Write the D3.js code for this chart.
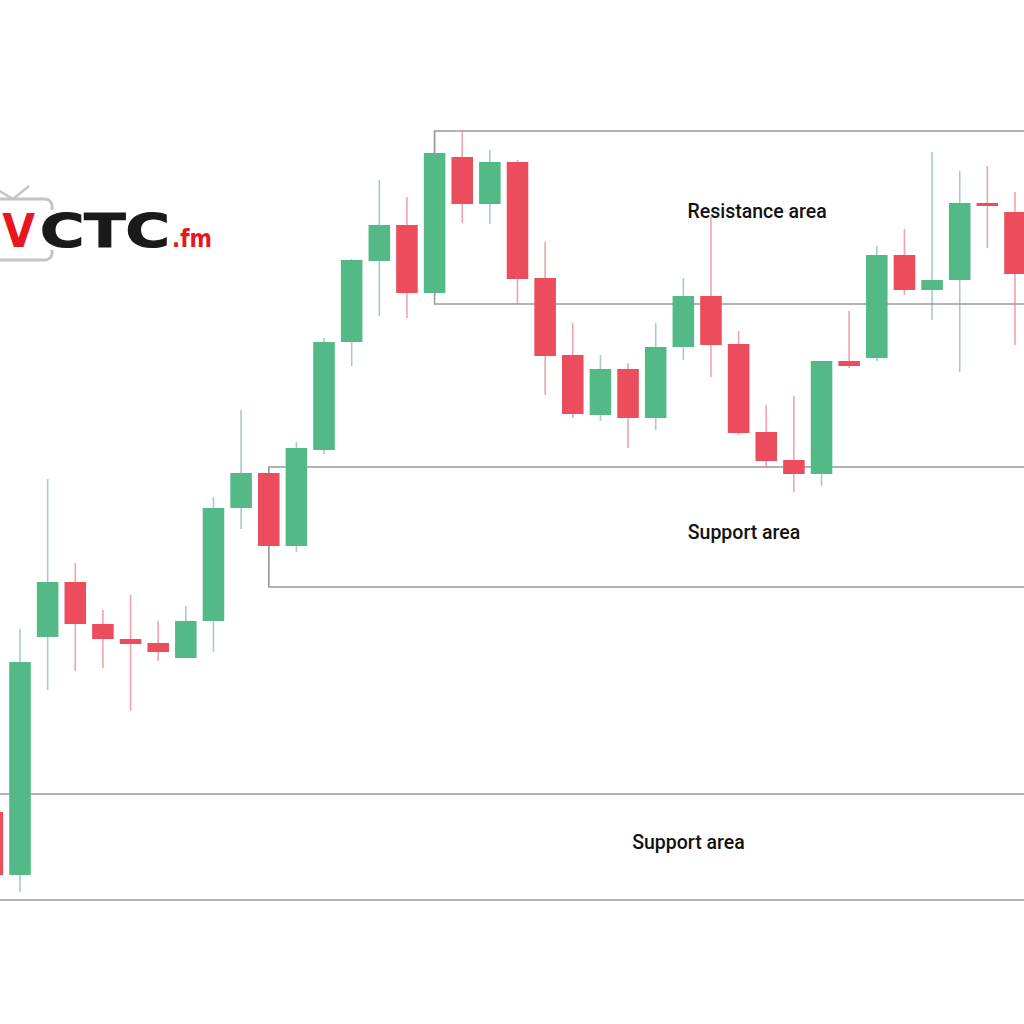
<!DOCTYPE html>
<html>
<head>
<meta charset="utf-8">
<script src="https://cdn.jsdelivr.net/npm/d3@7"></script>
<style>
html,body{margin:0;padding:0;background:#fff;}
svg{display:block;}
</style>
</head>
<body>
<svg id="chart" width="1024" height="1024"></svg>
<script>
// ---- data ----
const candleIndex = d3.range(0, 38);
const open  = [18.8,12.5,36.3,41.8,37.6,36.1,35.7,34.2,37.9,49.2,52.7,45.4,55.0,65.8,73.9,77.5,70.7,84.3,79.6,83.8,72.2,64.5,58.5,63.1,58.2,65.3,70.4,65.6,56.8,54.0,52.6,63.9,64.2,74.5,71.0,72.0,79.7,78.8];
const high  = [20.0,37.1,52.1,43.7,39.0,40.5,37.9,39.4,50.3,59.0,53.3,55.8,66.2,74.1,82.0,80.3,86.9,87.0,85.0,84.0,75.8,67.7,64.5,63.7,67.7,72.2,78.3,66.9,59.5,60.4,63.9,68.9,75.4,77.1,84.8,82.9,83.4,80.8];
const low   = [12.0,10.8,31.0,32.9,33.2,28.9,33.9,34.2,34.8,47.1,41.3,44.8,54.6,63.4,68.4,68.2,70.4,77.7,77.6,69.6,60.5,58.2,57.9,55.2,57.0,64.0,62.3,56.5,53.2,50.8,51.4,63.2,63.9,70.5,68.0,62.8,75.2,65.5];
const close = [12.5,33.8,41.8,37.6,36.1,35.6,34.8,37.9,49.2,52.7,45.4,55.2,65.8,74.0,77.5,70.7,84.7,79.6,83.8,72.1,64.4,58.6,63.1,58.2,65.3,70.4,65.5,56.7,53.9,52.6,63.9,63.4,74.5,71.0,72.0,79.7,79.4,72.6];

// zones: start index, top price, bottom price
const zoneNames  = ["Resistance area", "Support area", "Support area"];
const zoneStart  = [16, 10, -3];
const zoneTop    = [86.9, 53.3, 20.6];
const zoneBottom = [69.6, 41.3, 10.0];
// label anchor (index, price)
const labelIdx   = [25.15, 25.16, 23.15];
const labelPrice = [78.2, 46.1, 15.1];

// ---- layout ----
const W = 1024, H = 1024;
const svg = d3.select("#chart");
svg.append("rect").attr("width", W).attr("height", H).attr("fill", "#fff");

const x = d3.scaleLinear().domain([1, 37]).range([20, 1015]);
const y = d3.scaleLinear().domain([0, 100]).range([1000, 0]);
const step = x(1) - x(0);
const bodyW = step * 0.78;

const GREEN = "#53b987", RED = "#eb4d5c";
const GREEN_WICK = "#a9c9cb", RED_WICK = "#f0a3ad";
const LINE = "#9b9b9e";

const candles = candleIndex.map(i => ({i, o: open[i], h: high[i], l: low[i], c: close[i]}));

// zones
const zones = zoneNames.map((n, k) => ({n, s: zoneStart[k], t: zoneTop[k], b: zoneBottom[k], li: labelIdx[k], lp: labelPrice[k]}));

// wicks
svg.append("g").selectAll("line").data(candles).join("line")
  .attr("x1", d => x(d.i)).attr("x2", d => x(d.i))
  .attr("y1", d => y(d.h)).attr("y2", d => y(d.l))
  .attr("stroke", d => d.c >= d.o ? GREEN_WICK : RED_WICK)
  .attr("stroke-width", 1.6);

// zone outlines
const zg = svg.append("g").attr("fill", "none").attr("stroke", LINE).attr("stroke-width", 1.5);
zones.forEach(z => {
  const x0 = x(z.s), x1 = W + 10;
  zg.append("path").attr("d", `M${x1},${y(z.t)}H${x0}V${y(z.b)}H${x1}`);
});

// bodies
svg.append("g").selectAll("rect").data(candles).join("rect")
  .attr("x", d => x(d.i) - bodyW / 2)
  .attr("width", bodyW)
  .attr("y", d => y(Math.max(d.o, d.c)))
  .attr("height", d => Math.max(2.5, Math.abs(y(d.o) - y(d.c))))
  .attr("fill", d => d.c >= d.o ? GREEN : RED);

// labels
svg.append("g").selectAll("text").data(zones).join("text")
  .attr("x", d => x(d.li)).attr("y", d => y(d.lp))
  .attr("font-family", "Roboto, sans-serif")
  .attr("font-size", 19.5)
  .attr("font-weight", 500)
  .attr("fill", "#111")
  .text(d => d.n);

// logo
const logo = svg.append("g");
logo.append("rect").attr("x", -40).attr("y", 199).attr("width", 92).attr("height", 61)
  .attr("rx", 7).attr("fill", "none").attr("stroke", "#c4c4c4").attr("stroke-width", 3);
logo.append("path").attr("d", "M-2,190 L13,199 L29,186").attr("fill", "none")
  .attr("stroke", "#c4c4c4").attr("stroke-width", 2.5);
logo.append("rect").attr("x", 0).attr("y", 210).attr("width", 215).attr("height", 40).attr("fill", "#fff");
logo.append("text").attr("x", -29).attr("y", 247)
  .attr("font-family", "DejaVu Sans, sans-serif").attr("font-weight", "bold").attr("font-size", 46)
  .attr("fill", "#e8161f").attr("textLength", 64).attr("lengthAdjust", "spacingAndGlyphs").text("CV");
logo.append("text").attr("x", 40).attr("y", 247)
  .attr("font-family", "DejaVu Sans, sans-serif").attr("font-weight", "bold").attr("font-size", 46)
  .attr("fill", "#1a1a1a").attr("stroke", "#1a1a1a").attr("stroke-width", 1.2)
  .attr("textLength", 130).attr("lengthAdjust", "spacingAndGlyphs").text("CTC");
logo.append("text").attr("x", 172).attr("y", 247)
  .attr("font-family", "DejaVu Sans, sans-serif").attr("font-weight", "bold").attr("font-size", 25)
  .attr("fill", "#e8161f").attr("textLength", 40).attr("lengthAdjust", "spacingAndGlyphs").text(".fm");
</script>
</body>
</html>
